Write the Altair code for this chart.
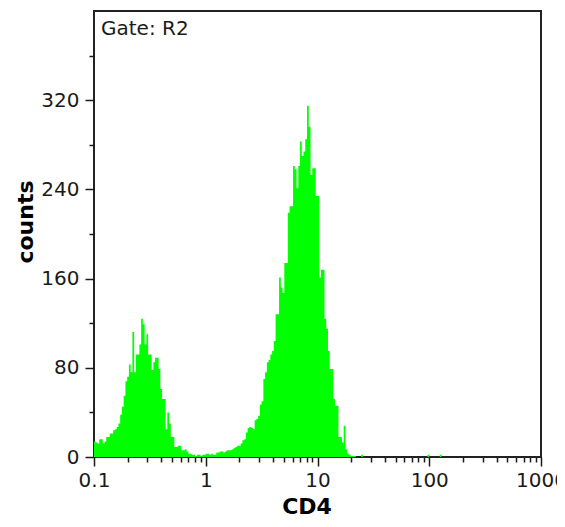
import altair as alt
import pandas as pd

# Histogram counts per channel (256 channels spanning 0.1 .. 1000, 64 per decade)
counts_a = [14, 13, 12, 16, 16, 12, 14, 18, 18, 21,
            21, 24, 25, 27, 30, 38, 45, 55, 68, 72,
            83, 76, 112, 76, 92, 92, 101, 124, 119, 101,
            110, 92, 92, 78, 85, 89, 89, 79, 61, 52,
            52, 25, 40, 30, 18, 18, 9, 9, 10, 10,
            6, 6]
counts_b = [7, 5, 3, 3, 2, 2, 1, 2, 2, 1,
            2, 2, 3, 3, 2, 3, 2, 2, 4, 4,
            5, 5, 4, 5, 6, 6]
counts_c = [6, 7, 8, 9, 10, 10, 12, 15, 16, 22,
            26, 27, 26, 25, 33, 34, 37, 47, 50, 70,
            76]
counts_d = [85, 87, 92, 95, 104, 128, 128, 161, 152, 147,
            174, 174, 219, 225, 225, 261]
counts_e = [258, 241, 261, 283, 270, 274, 285, 315, 296, 253,
            259, 259, 234, 234, 161, 168, 168, 124, 115, 95,
            79, 79, 52, 46, 46, 18, 18, 13, 28, 7,
            3, 2, 1, 1, 1]
counts_f = [0] * 106
counts_f[153 - 150] = 2
counts_f[191 - 150] = 2
counts_f[198 - 150] = 2

counts = counts_a + counts_b + counts_c + counts_d + counts_e + counts_f
n_bins = len(counts)  # 256

decades = [0.1, 1, 10, 100, 1000]
minor_mult = [2, 3, 4, 5, 6, 7, 8, 9]
y_ticks = [0, 40, 80, 120, 160, 200, 240, 280, 320, 360]

x_title = "CD4"
y_title = "counts"
gate_label = "Gate: R2"

edges = [10 ** (-1 + 4 * i / n_bins) for i in range(n_bins + 1)]
hist = pd.DataFrame({"x": edges, "count": counts + [0]})

x_vals = []
for d in decades[:-1]:
    x_vals.append(d)
    for m in minor_mult:
        x_vals.append(round(d * m, 6))
x_vals.append(decades[-1])

FONT = "DejaVu Sans"
INK = "#1a1a1a"

x_axis = alt.Axis(
    values=x_vals,
    labelExpr="indexof([0.1,1,10,100,1000], datum.value) >= 0 ? format(datum.value, '~g') : ''",
    tickSize={"condition": {"test": "indexof([0.1,1,10,100,1000], datum.value) >= 0", "value": 9}, "value": 5},
    tickColor=INK, tickWidth=1.5,
    labelFont=FONT, labelFontSize=20, labelColor=INK,
    labelFlush=False, labelOverlap=False, labelBound=False,
    labelPadding=4,
    domain=False, grid=False, title=None,
)
y_axis = alt.Axis(
    values=y_ticks,
    labelExpr="datum.value % 80 == 0 ? datum.label : ''",
    tickSize={"condition": {"test": "datum.value % 80 == 0", "value": 9}, "value": 5},
    tickColor=INK, tickWidth=1.5,
    labelFont=FONT, labelFontSize=20, labelColor=INK,
    labelOverlap=False, labelBound=False,
    labelPadding=6,
    domain=False, grid=False, title=None,
)

area = alt.Chart(hist).mark_area(interpolate="step-after", color="#00FF00").encode(
    x=alt.X("x:Q", scale=alt.Scale(type="log", domain=[0.1, 1000], nice=False), axis=x_axis),
    y=alt.Y("count:Q", scale=alt.Scale(domain=[0, 400], nice=False), axis=y_axis),
)

gate = alt.Chart(pd.DataFrame({"t": [gate_label]})).mark_text(
    align="left", baseline="alphabetic", font=FONT, fontSize=20, color=INK
).encode(text="t:N", x=alt.value(7), y=alt.value(24))

ytitle = alt.Chart(pd.DataFrame({"t": [y_title]})).mark_text(
    align="center", baseline="middle", font=FONT, fontSize=22, fontWeight="bold",
    color="#000000", angle=270
).encode(text="t:N", x=alt.value(-68), y=alt.value(211))

xtitle = alt.Chart(pd.DataFrame({"t": [x_title]})).mark_text(
    align="center", baseline="middle", font=FONT, fontSize=22, fontWeight="bold",
    color="#000000"
).encode(text="t:N", x=alt.value(213), y=alt.value(496))

chart = alt.layer(area, gate, ytitle, xtitle).properties(
    width=447, height=446,
    autosize=alt.AutoSizeParams(type="none"),
    padding={"left": 86, "top": 3, "right": 16, "bottom": 66},
    background="white",
).configure_view(stroke="#222222", strokeWidth=2)

chart.save("out.html", embed_options={"renderer": "svg", "actions": False})
